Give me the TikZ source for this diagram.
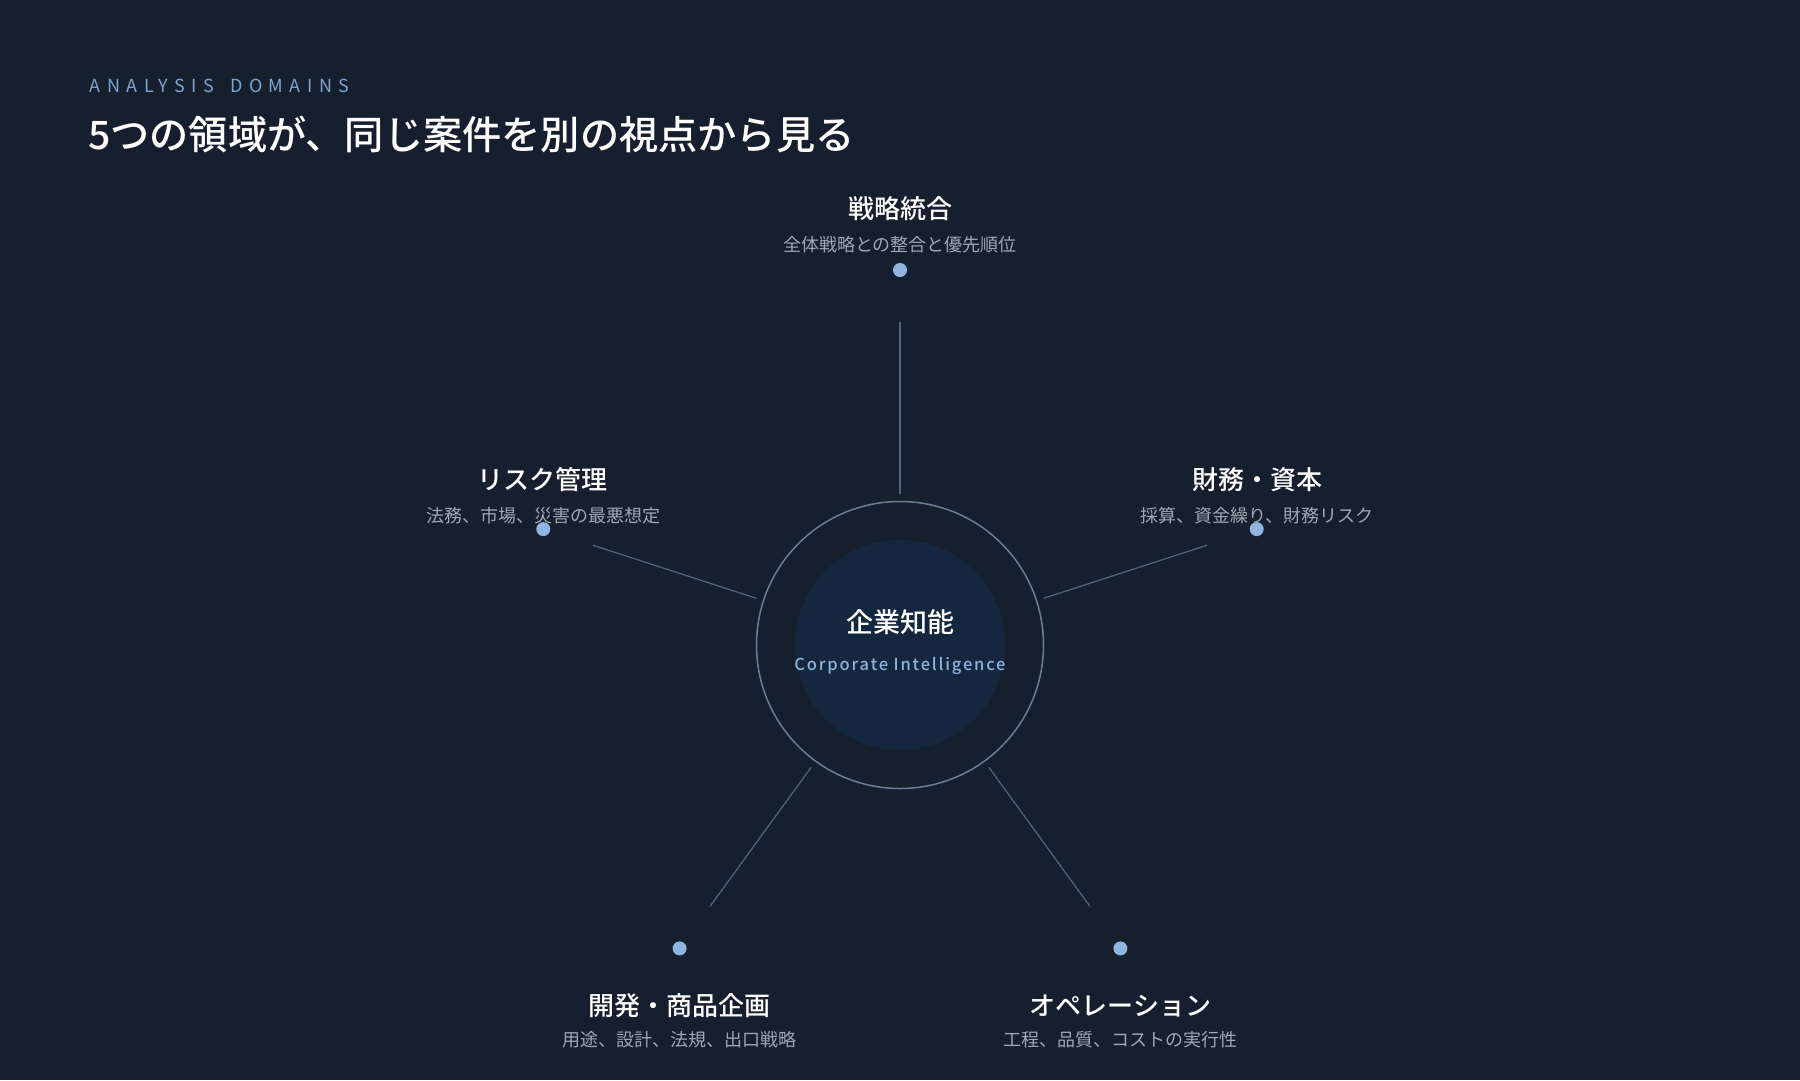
\documentclass[tikz,border=0pt]{standalone}
\usepackage{fontspec}
\setmainfont{Noto Sans CJK JP}[BoldFont={Noto Sans CJK JP Medium}]
\usetikzlibrary{calc}
\definecolor{bgc}{HTML}{161F2E}
\definecolor{corefill}{HTML}{15273E}
\definecolor{ringc}{HTML}{6B7D95}
\definecolor{spokec}{HTML}{55657D}
\definecolor{dotc}{HTML}{8FB5E0}
\definecolor{subc}{HTML}{A0A7B2}
\definecolor{eyebrowc}{HTML}{7FA4CF}
\definecolor{corpc}{HTML}{8FB3DC}
\tikzset{
  spoke/.style={draw=spokec, line width=1.2pt},
  domdot/.style={circle, fill=dotc, inner sep=0pt, minimum size=14pt},
  domtitle/.style={text=white, font=\fontsize{26}{30}\selectfont\bfseries, inner sep=0pt},
  domsub/.style={text=subc, font=\fontsize{18}{22}\selectfont, inner sep=0pt},
}
\begin{document}
\begin{tikzpicture}[x=1pt,y=-1pt]
\fill[bgc] (0,0) rectangle (1800,1080);
\useasboundingbox (0,0) rectangle (1800,1080);

% headings
\node[anchor=west, inner sep=0pt, text=eyebrowc, font=\fontsize{18}{22}\selectfont\addfontfeature{LetterSpace=36}] (eyebrow) at (89.5,86) {ANALYSIS\hbox to 16pt{}DOMAINS};
\node[anchor=west, inner sep=0pt, text=white, font=\fontsize{39.2}{46}\selectfont\bfseries] (headline) at (88,134) {5つの領域が、同じ案件を別の視点から見る};

% core
\node[circle, draw=ringc, line width=1.5pt, minimum size=287pt, inner sep=0pt] (ring) at (900,645) {};
\node[circle, fill=corefill, minimum size=210pt, inner sep=0pt] (core) at (900,645) {};
\node[text=white, font=\fontsize{27}{32}\selectfont\bfseries, inner sep=0pt] (coreja) at (900,622) {企業知能};
\node[text=corpc, font=\fontsize{16.5}{20}\selectfont\bfseries\addfontfeature{LetterSpace=11}, inner sep=0pt] (coreen) at (900,666) {Corporate Intelligence};

% spoke end points
\coordinate (in1) at (900,494);     \coordinate (out1) at (900,322);
\coordinate (in2) at (1043.6,598.3); \coordinate (out2) at (1207.2,545.2);
\coordinate (in3) at (756.4,598.3);  \coordinate (out3) at (592.8,545.2);
\coordinate (in4) at (988.8,767.2);  \coordinate (out4) at (1089.9,906.3);
\coordinate (in5) at (811.2,767.2);  \coordinate (out5) at (710.1,906.3);
\foreach \i in {1,...,5} { \draw[spoke] (in\i) -- (out\i); }

% domains
\node[domtitle] (t1) at (900,209) {戦略統合};
\node[domsub] (s1) at (900,244.5) {全体戦略との整合と優先順位};
\node[domdot] (d1) at (900,270) {};

\node[domtitle] (t2) at (1257,480) {財務・資本};
\node[domsub] (s2) at (1257,515.5) {採算、資金繰り、財務リスク};
\node[domdot] (d2) at (1256.7,529.1) {};

\node[domtitle] (t3) at (542,480) {リスク管理};
\node[domsub] (s3) at (543,515.5) {法務、市場、災害の最悪想定};
\node[domdot] (d3) at (543.3,529.1) {};

\node[domdot] (d5) at (679.6,948.4) {};
\node[domtitle] (t5) at (679.6,1005.6) {開発・商品企画};
\node[domsub] (s5) at (679.6,1040) {用途、設計、法規、出口戦略};

\node[domdot] (d4) at (1120.4,948.4) {};
\node[domtitle] (t4) at (1120.4,1005.6) {オペレーション};
\node[domsub] (s4) at (1120.4,1040) {工程、品質、コストの実行性};
\end{tikzpicture}
\end{document}
